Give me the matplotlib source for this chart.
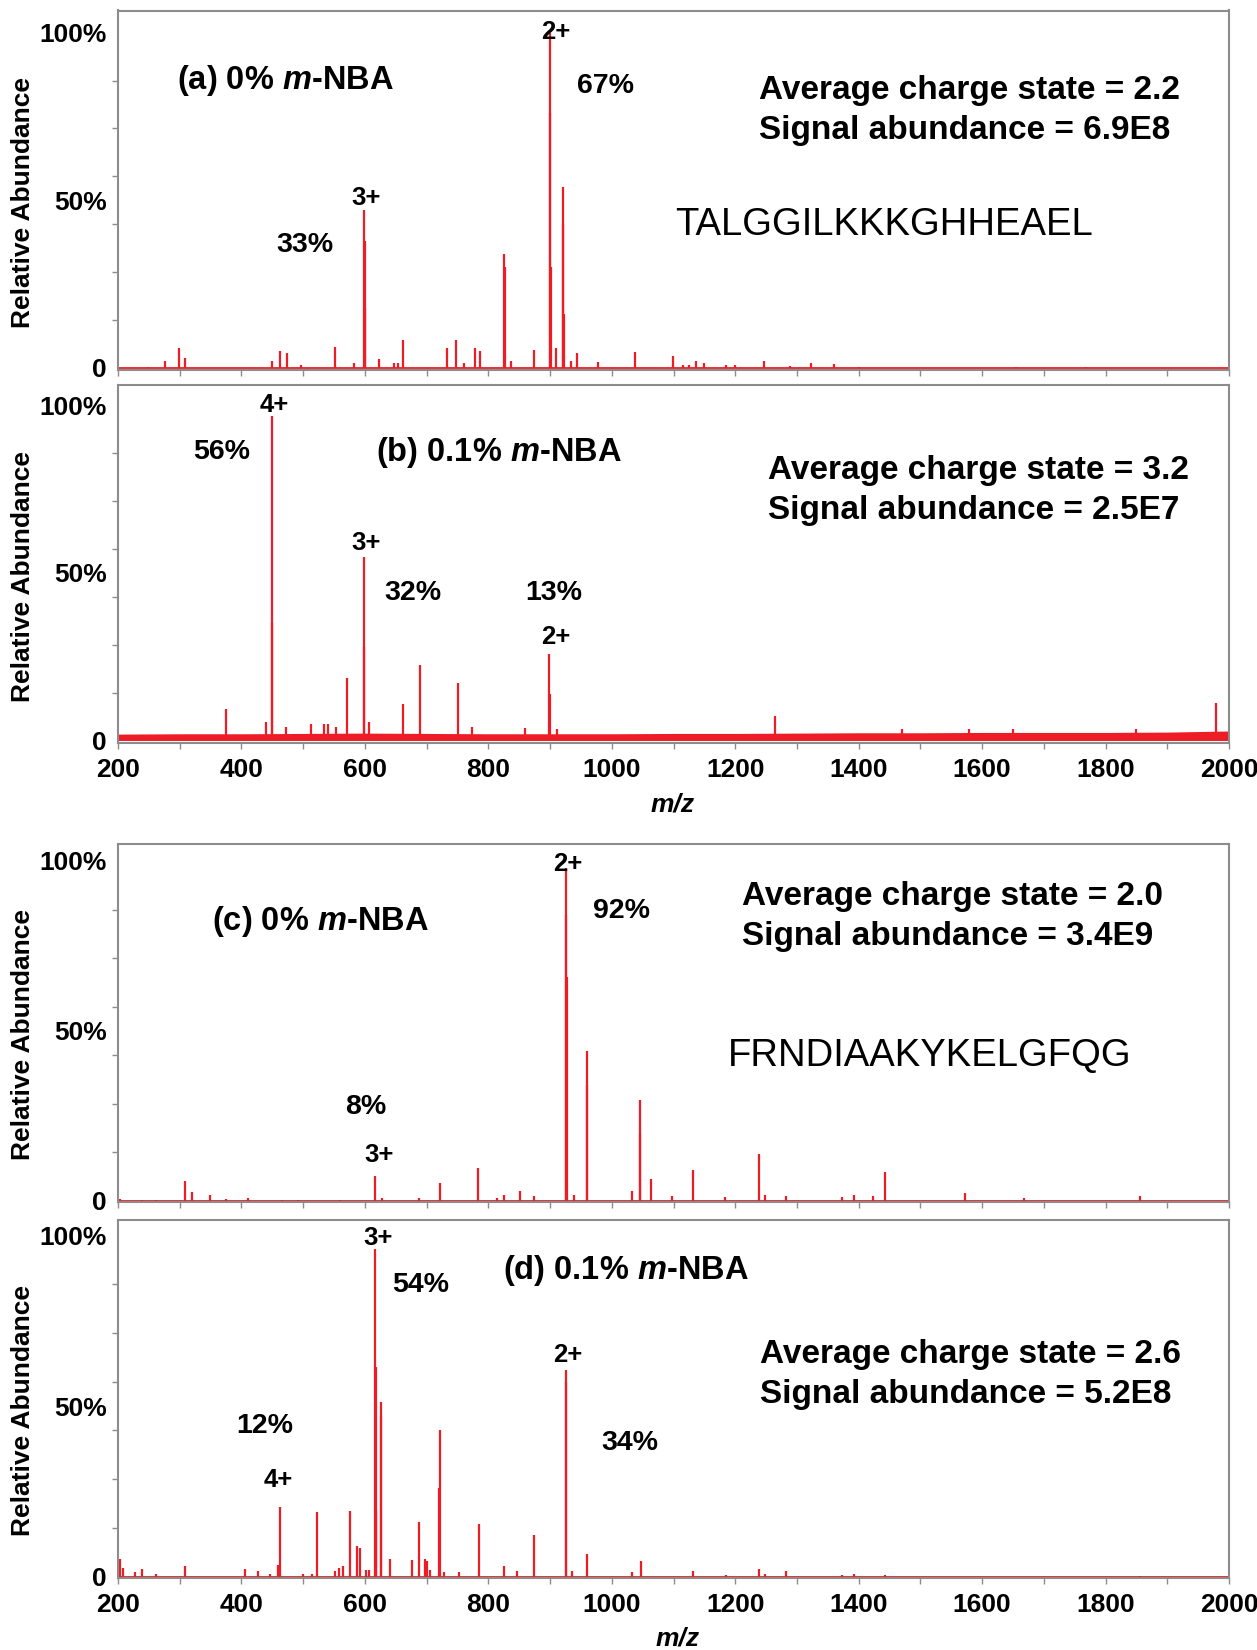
import matplotlib
matplotlib.use("Agg")
import matplotlib.pyplot as plt
import numpy as np

plt.rcParams["font.family"] = ["Liberation Sans", "DejaVu Sans"]
plt.rcParams["mathtext.fontset"] = "custom"
plt.rcParams["mathtext.bfit"] = "Liberation Sans:bold:italic"
plt.rcParams["mathtext.it"] = "Liberation Sans:italic"
plt.rcParams["mathtext.rm"] = "Liberation Sans"

RED = "#ee1c25"
FRAME = "#8c8c8c"
W, H = 1257, 1650

# peak lists: m/z and relative abundance (%)
a_mz = [248, 276, 299, 308, 449, 462, 474, 496, 551, 583,
        599, 599.4, 599.8, 623, 647, 653, 661, 733, 748, 761,
        778, 787, 826, 826.5, 837, 874, 900, 900.5, 901, 909,
        921, 921.5, 922, 934, 943, 978, 1037, 1099, 1115, 1125,
        1136, 1150, 1185, 1200, 1246, 1288, 1323, 1360, 1400, 1655, 1768]
a_int = [0.3, 2, 5.9, 2.9, 2, 5.2, 4.4, 0.8, 6.2, 1.6,
         47, 38, 18, 2.6, 1.4, 1.4, 8.2, 5.9, 8.2, 1.6,
         6, 5.1, 34, 30, 2.2, 5.4, 100, 76, 30, 5.9,
         54, 43, 16, 2.2, 4.4, 1.9, 4.7, 3.6, 1, 1,
         2, 1.4, 1, 1, 2, 0.5, 1.4, 1.2, 0.4, 0.3, 0.3]

b_mz = [375, 439, 449, 449.3, 472, 513, 533, 541, 554, 571,
        598, 598.4, 607, 662, 689, 751, 773, 859, 899, 899.5,
        912, 1265, 1470, 1578, 1650, 1849, 1979]
b_int = [9.4, 5.4, 96.7, 35, 4, 5, 5, 5, 4, 18.7,
         54.7, 28, 5.4, 10.8, 22.4, 17.2, 4, 3.6, 25.9, 14,
         3.4, 7.4, 3.5, 3.5, 3.5, 3.5, 11.3]
# baseline noise envelope of panel (b), every 100 m/z
noise_mz = [200, 300, 400, 500, 600, 700, 800, 900, 1000, 1100,
            1200, 1300, 1400, 1500, 1600, 1700, 1800, 1900, 1990, 2000]
noise_lvl = [1.9, 2.0, 2.0, 2.1, 2.2, 2.1, 2.0, 2.0, 2.0, 2.1,
             2.1, 2.2, 2.3, 2.3, 2.4, 2.4, 2.4, 2.5, 2.8, 2.8]

c_mz = [204, 239, 261, 308, 320, 349, 375, 410, 465, 492,
        560, 617, 628, 688, 721, 784, 814, 825, 852, 874,
        926, 926.5, 927, 939, 960, 960.5, 1032, 1046, 1046.5, 1064,
        1097, 1131, 1183, 1238, 1249, 1282, 1373, 1392, 1423, 1442,
        1572, 1668, 1856]
c_int = [0.5, 0.3, 0.3, 6, 2.5, 1.8, 0.7, 0.8, 0.4, 0.4,
         0.4, 7.4, 1, 1, 5.2, 9.6, 1, 1.8, 2.9, 1.5,
         98, 84, 66, 1.8, 44, 34, 3, 29.7, 20, 6.5,
         1.5, 9, 1.3, 13.8, 1.8, 1.5, 1.3, 1.8, 1.5, 8.4,
         2.3, 0.8, 1.5]

d_mz = [204, 208, 228, 239, 261, 308, 405, 427, 446, 459,
        462, 500, 514, 523, 552, 558, 564, 576, 588, 592,
        601, 607, 617, 617.3, 617.7, 626, 626.5, 640, 676, 687,
        697, 700, 705, 720.5, 721, 728, 753, 785, 826, 846,
        874, 926, 925.6, 936, 960, 1032, 1047, 1131, 1185, 1238,
        1248, 1282, 1373, 1392, 1442, 1856]
d_int = [5.3, 2.6, 1.4, 2.3, 0.8, 3.1, 2.3, 1.8, 1, 3.6,
         20.4, 0.8, 1, 18.9, 1.7, 2.6, 3.1, 19.2, 9.2, 8.5,
         2.1, 2, 96, 61.5, 19.7, 51.3, 47, 5.4, 5, 16,
         5.4, 4.6, 2, 26, 43, 1.5, 1.4, 15.6, 3.1, 1.7,
         12.2, 60.6, 57, 1.7, 6.8, 1.4, 4.6, 1.7, 0.5, 2.3,
         1, 1.7, 0.5, 1, 0.7, 0.3]

panel_mz = [a_mz, b_mz, c_mz, d_mz]
panel_int = [a_int, b_int, c_int, d_int]
# axes boxes in pixels: top, bottom; y limits
boxes = [(10.5, 370), (385, 743), (844, 1202), (1220, 1578)]
ylims = [(-0.6, 106.6), (-0.75, 106.0), (-0.3, 105.0), (-0.3, 104.4)]

fig = plt.figure(figsize=(W / 100, H / 100), dpi=100)


def put(x, y, s, **kw):
    fig.text(x / W, 1 - y / H, s, **kw)


axes = []
for i, (top, bot) in enumerate(boxes):
    ax = fig.add_axes([118 / W, 1 - bot / H, 1111 / W, (bot - top) / H])
    ax.vlines(panel_mz[i], 0, panel_int[i], color=RED, lw=1.6)
    if i == 1:
        ax.fill_between(noise_mz, 0, noise_lvl, color=RED, lw=0)
    else:
        ax.axhline(0, color=RED, lw=1.3)
    ax.set_xlim(200, 2000)
    ax.set_ylim(*ylims[i])
    ax.set_xticks(range(200, 2001, 200))
    ax.set_xticks(range(200, 2001, 100), minor=True)
    ax.set_yticks([0, 50, 100])
    ax.set_yticklabels(["0", "50%", "100%"], fontsize=19, fontweight="bold")
    ax.set_yticks(np.linspace(0, 100, 8), minor=True)
    ax.tick_params(axis="y", which="major", length=0, pad=8)
    ax.tick_params(axis="y", which="minor", length=4, color=FRAME, width=1)
    ax.tick_params(axis="x", which="both", length=4, color=FRAME, width=1, pad=7)
    if i in (1, 3):
        ax.set_xticklabels([str(v) for v in range(200, 2001, 200)],
                           fontsize=19, fontweight="bold")
    else:
        ax.tick_params(axis="x", labelbottom=False)
    for sp in ax.spines.values():
        sp.set_color(FRAME)
        sp.set_linewidth(1.5)
    put(23, (top + bot) / 2 + 12, "Relative Abundance", rotation=90,
        fontsize=19, fontweight="bold", ha="center", va="center")
    axes.append(ax)

# x axis titles
put(673, 804, "m/z", fontsize=19, fontweight="bold", style="italic", ha="center", va="center")
put(678, 1638, "m/z", fontsize=19, fontweight="bold", style="italic", ha="center", va="center")

big = dict(fontsize=23.5, fontweight="bold", ha="left", va="center")
info = dict(fontsize=24, fontweight="bold", ha="left", va="center")
pct = dict(fontsize=20.5, fontweight="bold", ha="center", va="center")
chg = dict(fontsize=18.5, fontweight="bold", ha="center", va="center")
seq = dict(fontsize=27.5, ha="left", va="center")

# panel (a)
put(177, 80, r"(a) 0% $\mathbfit{m}$-NBA", **big)
put(556, 32, "2+", **chg)
put(605, 86, "67%", **pct)
put(366, 198, "3+", **chg)
put(305, 245, "33%", **pct)
put(759, 91, "Average charge state = 2.2", **info)
put(759, 131, "Signal abundance = 6.9E8", **info)
put(675, 225, "TALGGILKKKGHHEAEL", **seq)

# panel (b)
put(274, 405, "4+", **chg)
put(222, 452, "56%", **pct)
put(376, 453, r"(b) 0.1% $\mathbfit{m}$-NBA", **big)
put(366, 543, "3+", **chg)
put(413, 593, "32%", **pct)
put(554, 593, "13%", **pct)
put(556, 637, "2+", **chg)
put(768, 471, "Average charge state = 3.2", **info)
put(768, 511, "Signal abundance = 2.5E7", **info)

# panel (c)
put(568, 864, "2+", **chg)
put(622, 911, "92%", **pct)
put(212, 921, r"(c) 0% $\mathbfit{m}$-NBA", **big)
put(742, 896, "Average charge state = 2.0", **info)
put(742, 936, "Signal abundance = 3.4E9", **info)
put(728, 1056, "FRNDIAAKYKELGFQG", **seq)
put(366, 1107, "8%", **pct)
put(379, 1155, "3+", **chg)

# panel (d)
put(378, 1238, "3+", **chg)
put(421, 1285, "54%", **pct)
put(503, 1270, r"(d) 0.1% $\mathbfit{m}$-NBA", **big)
put(760, 1354, "Average charge state = 2.6", **info)
put(760, 1394, "Signal abundance = 5.2E8", **info)
put(568, 1355, "2+", **chg)
put(265, 1426, "12%", **pct)
put(630, 1443, "34%", **pct)
put(278, 1480, "4+", **chg)

fig.savefig("out.png", dpi=100)
